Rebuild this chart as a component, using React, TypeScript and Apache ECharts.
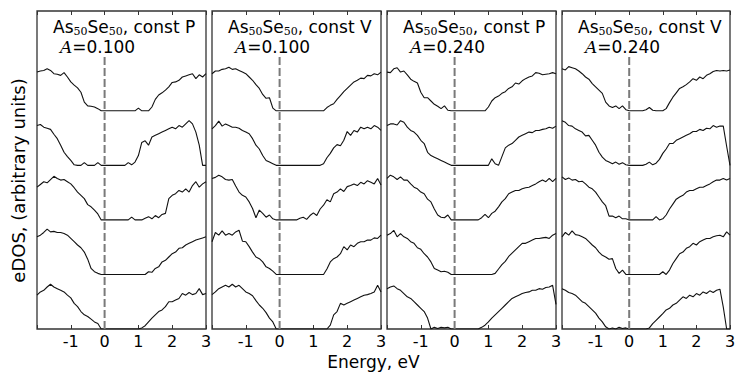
import React, { useEffect, useRef } from 'react';
import * as echarts from 'echarts';

// Energy grid (eV)
const energy = [
  -2.0, -1.9, -1.8, -1.7, -1.6, -1.5, -1.4, -1.3, -1.2, -1.1,
  -1.0, -0.9, -0.8, -0.7, -0.6, -0.5, -0.4, -0.3, -0.2, -0.1,
  0.0, 0.1, 0.2, 0.3, 0.4, 0.5, 0.6, 0.7, 0.8, 0.9,
  1.0, 1.1, 1.2, 1.3, 1.4, 1.5, 1.6, 1.7, 1.8, 1.9,
  2.0, 2.1, 2.2, 2.3, 2.4, 2.5, 2.6, 2.7, 2.8, 2.9,
  3.0,
];

// Panel 1: As50Se50, const P, A=0.100 (top to bottom)
const p1c1 = [.71,.73,.74,.77,.74,.68,.67,.65,.70,.62, .53,.47,.42,.34,.16,.09,.085,.07,.04,0, 0,0,0,0,0,0,0,0,0,0, .05,0,0,0,.07,.21,.29,.33,.38,.44, .52,.53,.56,.62,.64,.66,.68,.59,.66,.62, .68];
const p1c2 = [.73,.75,.70,.68,.66,.57,.49,.37,.24,.16, .09,.01,0,0,.05,0,0,0,.05,0, 0,0,0,0,0,0,0,.05,.01,.06, .18,.42,.45,.37,.52,.55,.58,.61,.64,.67, .70,.67,.73,.70,.76,.82,.76,.61,.37,0, 0];
const p1c3 = [.60,.65,.70,.68,.74,.80,.76,.73,.74,.70, .66,.59,.51,.45,.39,.28,.24,.18,.11,0, 0,0,0,0,0,0,0,0,.05,0, 0,0,.03,.06,.02,.08,.04,.10,.12,.39, .45,.48,.54,.51,.57,.51,.63,.70,.60,.66, .70];
const p1c4 = [.69,.72,.77,.83,.78,.79,.77,.77,.75,.72, .66,.60,.54,.49,.41,.28,.11,.05,.02,0, 0,0,0,0,0,0,0,0,0,0, 0,0,0,.05,.04,.11,.14,.23,.26,.32, .38,.41,.48,.49,.54,.57,.60,.63,.65,.67, .69];
const p1c5 = [.62,.68,.71,.77,.82,.77,.74,.71,.68,.62, .57,.47,.41,.32,.26,.23,.18,.13,.10,0, 0,0,0,0,0,0,0,0,0,0, 0,.02,.06,.13,.20,.26,.32,.35,.41,.50, .50,.53,.56,.65,.62,.67,.63,.65,.74,.63, .65];

// Panel 2: As50Se50, const V, A=0.100
const p2c1 = [.68,.73,.73,.76,.77,.80,.76,.77,.74,.71, .68,.62,.56,.48,.41,.30,.23,.24,.05,0, 0,0,0,0,0,0,0,0,0,0, 0,0,0,0,.06,.10,.13,.21,.28,.35, .41,.47,.53,.56,.60,.59,.65,.64,.68,.66, .71];
const p2c2 = [.67,.73,.81,.72,.76,.73,.70,.70,.68,.64, .61,.58,.49,.37,.30,.18,.09,.06,.03,0, 0,0,0,0,0,0,0,0,0,0, 0,0,0,.03,.14,.22,.32,.38,.36,.46, .62,.55,.64,.61,.70,.67,.70,.67,.73,.70, .64];
const p2c3 = [.76,.78,.82,.79,.74,.73,.74,.62,.51,.45, .42,.33,.21,.04,.18,.12,.05,.09,.02,0, 0,0,0,0,0,0,.03,.05,.01,.08, .13,.08,.20,.27,.37,.33,.48,.51,.57,.52, .61,.63,.66,.63,.69,.66,.72,.69,.66,.76, .64];
const p2c4 = [.60,.77,.72,.80,.72,.75,.72,.78,.81,.61, .60,.51,.41,.32,.29,.23,.14,.11,.06,0, 0,0,0,0,0,0,0,0,0,0, 0,0,0,0,.10,.23,.29,.32,.38,.51, .45,.54,.51,.57,.60,.60,.63,.63,.67,.66, .72];
const p2c5 = [.63,.68,.74,.77,.80,.77,.82,.77,.80,.74, .68,.65,.61,.52,.44,.38,.30,.20,.13,0, 0,0,0,0,0,0,0,0,0,0, 0,0,0,0,0,.07,.26,.32,.47,.44, .47,.50,.53,.56,.59,.62,.63,.65,.68,.80, .68];

// Panel 3: As50Se50, const P, A=0.240
const p3c1 = [.71,.70,.77,.79,.71,.73,.66,.58,.54,.51, .34,.24,.24,.18,.12,.085,.04,.09,.01,0, 0,0,0,0,0,0,0,0,0,0, .07,.18,.24,.27,.32,.35,.41,.44,.51,.49, .55,.59,.62,.64,.70,.69,.66,.67,.68,.70, .68];
const p3c2 = [.73,.76,.76,.74,.82,.79,.70,.64,.61,.55, .46,.40,.24,.18,.15,.12,.09,.06,.03,0, 0,0,0,0,0,0,0,0,0,0, 0,.12,.03,0,.16,.32,.37,.40,.46,.52, .55,.58,.61,.60,.64,.64,.66,.67,.70,.68, .72];
const p3c3 = [.76,.82,.79,.74,.79,.73,.73,.66,.60,.57, .51,.48,.38,.33,.20,.09,.05,.04,.09,0, 0,0,0,0,0,0,0,0,.04,.10, .04,.12,.16,.24,.33,.39,.48,.51,.54,.54, .57,.59,.60,.63,.66,.70,.73,.70,.76,.70, .76];
const p3c4 = [.72,.75,.81,.69,.75,.69,.66,.60,.57,.49, .46,.38,.32,.23,.11,.08,.05,.06,.04,0, 0,0,0,0,0,0,0,0,0,0, 0,0,.02,.10,.18,.24,.33,.39,.45,.51, .57,.57,.60,.63,.66,.66,.67,.68,.66,.72, .75];
const p3c5 = [.74,.77,.79,.74,.71,.65,.59,.56,.50,.44, .38,.32,.20,0,.03,.01,.03,.02,.03,0, 0,0,0,0,0,0,0,0,.03,.07, .13,.20,.26,.32,.38,.44,.50,.56,.59,.62, .65,.67,.68,.71,.71,.74,.73,.76,.77,.80, .45];

// Panel 4: As50Se50, const V, A=0.240
const p4c1 = [.77,.75,.81,.79,.77,.73,.68,.62,.58,.50, .44,.38,.32,.16,.09,.06,.09,.04,.09,.02, 0,0,0,0,0,.02,.06,.01,0,0, 0,.04,.15,.25,.33,.41,.44,.48,.53,.59, .56,.62,.59,.65,.68,.72,.74,.73,.74,.73, .75];
const p4c2 = [.82,.79,.73,.72,.67,.64,.61,.54,.55,.46, .37,.24,.15,.09,.06,.03,.06,.02,.05,.01, 0,0,0,0,0,.02,.06,.01,.04,.11, .22,.30,.40,.40,.46,.49,.52,.55,.58,.62, .62,.66,.64,.68,.67,.73,.70,.72,.72,.35, 0];
const p4c3 = [.79,.74,.77,.73,.74,.70,.71,.66,.60,.57, .51,.42,.33,.26,.07,.07,.04,.07,.02,.02, 0,0,0,0,0,0,0,0,.06,0, .02,.09,.20,.29,.38,.42,.45,.51,.54,.54, .57,.60,.60,.63,.66,.70,.73,.73,.76,.73, .76];
const p4c4 = [.69,.77,.72,.80,.73,.72,.69,.66,.60,.54, .49,.41,.35,.32,.28,.29,.11,.02,.08,0, 0,0,0,0,0,0,0,0,0,0, .05,0,.08,.20,.29,.38,.41,.48,.51,.57, .54,.60,.63,.66,.66,.69,.71,.72,.69,.78, .72];
const p4c5 = [.74,.71,.67,.65,.62,.56,.50,.47,.41,.35, .29,.20,.13,.04,0,.02,0,.03,.01,.02, 0,0,0,0,0,0,.02,.10,.16,.22, .28,.35,.38,.44,.47,.53,.59,.56,.62,.59, .65,.62,.68,.65,.70,.67,.71,.73,.40,0, 0];

const curveOffsets = [4, 3, 2, 1, 0];
const panelCurves = [
  [p1c1, p1c2, p1c3, p1c4, p1c5],
  [p2c1, p2c2, p2c3, p2c4, p2c5],
  [p3c1, p3c2, p3c3, p3c4, p3c5],
  [p4c1, p4c2, p4c3, p4c4, p4c5],
];
const ensembles = ['const P', 'const V', 'const P', 'const V'];
const aValues = ['0.100', '0.100', '0.240', '0.240'];
const xTickLabels = [-1, 0, 1, 2, 3];
const fermiLine = [[0, 0], [0, 5]];

const PANEL_LEFT = [37, 212, 387, 562];
const PANEL_WIDTH = [169, 169, 169, 168];
const PANEL_TOP = 11;
const PANEL_HEIGHT = 318;
const SANS = 'DejaVu Sans';

export default function App() {
  const ref = useRef<HTMLDivElement>(null);
  useEffect(() => {
    const chart = echarts.init(ref.current!, null, { renderer: 'svg' });
    const grids: any[] = [];
    const xAxes: any[] = [];
    const yAxes: any[] = [];
    const series: any[] = [];
    const graphics: any[] = [];
    for (let p = 0; p < 4; p++) {
      grids.push({
        left: PANEL_LEFT[p], top: PANEL_TOP, width: PANEL_WIDTH[p], height: PANEL_HEIGHT,
        show: true, borderColor: '#333', borderWidth: 1.3, backgroundColor: 'transparent',
      });
      const baseX = {
        type: 'value', gridIndex: p, min: -2, max: 3, interval: 1,
        axisLine: { show: false },
        splitLine: { show: false },
        axisTick: { show: true, inside: true, length: 4, lineStyle: { color: '#333', width: 1 } },
      };
      xAxes.push({
        ...baseX, position: 'bottom',
        axisLabel: {
          show: true, margin: 4, fontSize: 16, fontFamily: SANS, color: '#000',
          formatter: (v: number) => (xTickLabels.includes(v) ? String(v) : ''),
        },
      });
      xAxes.push({ ...baseX, position: 'top', axisLabel: { show: false } });
      yAxes.push({
        type: 'value', gridIndex: p, min: 0, max: 5.83,
        axisLine: { show: false }, axisTick: { show: false }, axisLabel: { show: false }, splitLine: { show: false },
      });
      panelCurves[p].forEach((vals, k) => {
        series.push({
          type: 'line', xAxisIndex: 2 * p, yAxisIndex: p,
          data: energy.map((e, i) => [e, curveOffsets[k] + vals[i]]),
          showSymbol: false, symbol: 'none', silent: true,
          lineStyle: { color: '#111', width: 1.1 },
        });
      });
      series.push({
        type: 'line', xAxisIndex: 2 * p, yAxisIndex: p, data: fermiLine,
        showSymbol: false, symbol: 'none', silent: true, z: 3,
        lineStyle: { color: '#7a7a7a', width: 2, type: [8, 3] },
      });
      graphics.push({
        type: 'text', x: PANEL_LEFT[p] + 16, y: 26.5, z: 10,
        style: {
          text: `{n|As}{s|50}{n|Se}{s|50}{n|, ${ensembles[p]}}`,
          align: 'left', verticalAlign: 'middle',
          rich: {
            n: { fontFamily: SANS, fontSize: 17, fill: '#000', lineHeight: 20 },
            s: { fontFamily: 'DejaVu Serif', fontSize: 11, fill: '#000', lineHeight: 20, padding: [9, 0, 0, 0] },
          },
        },
      });
      graphics.push({
        type: 'text', x: PANEL_LEFT[p] + 23, y: 46.5, z: 10,
        style: {
          text: `{i|A}{n|=${aValues[p]}}`,
          align: 'left', verticalAlign: 'middle',
          rich: {
            i: { fontFamily: 'DejaVu Serif', fontStyle: 'italic', fontSize: 17, fill: '#000', lineHeight: 20 },
            n: { fontFamily: SANS, fontSize: 17, fill: '#000', lineHeight: 20 },
          },
        },
      });
    }
    graphics.push({
      type: 'text', x: 373.5, y: 361.5,
      style: { text: 'Energy, eV', fontFamily: SANS, fontSize: 17, fill: '#000', align: 'center', verticalAlign: 'middle' },
    });
    graphics.push({
      type: 'text', x: 18, y: 180.5, rotation: Math.PI / 2,
      style: { text: 'eDOS, (arbitrary units)', fontFamily: SANS, fontSize: 18, fill: '#000', align: 'center', verticalAlign: 'middle' },
    });
    chart.setOption({
      animation: false,
      backgroundColor: '#fff',
      grid: grids,
      xAxis: xAxes,
      yAxis: yAxes,
      series,
      graphic: graphics,
    });
    return () => chart.dispose();
  }, []);
  return <div ref={ref} style={{ position: 'absolute', left: 0, top: 0, width: 747, height: 374 }} />;
}
